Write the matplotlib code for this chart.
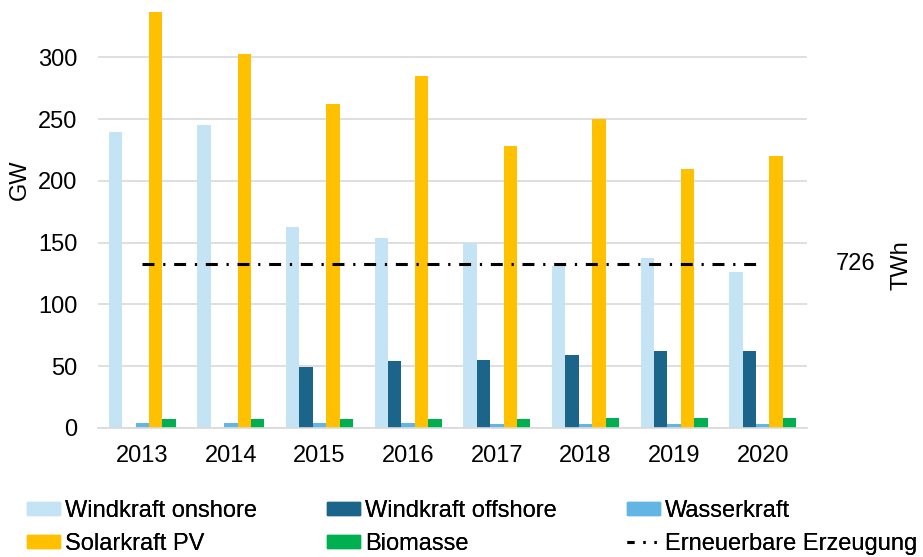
import matplotlib
matplotlib.use("Agg")
import matplotlib.pyplot as plt
import numpy as np
from matplotlib.patches import Patch
from matplotlib.lines import Line2D

plt.rcParams['font.family'] = ['Liberation Sans', 'DejaVu Sans']
plt.rcParams['lines.scale_dashes'] = False

years = ['2013', '2014', '2015', '2016', '2017', '2018', '2019', '2020']
onshore = [240, 245, 163, 154, 150, 131, 138, 126]
offshore = [0, 0, 49, 54, 55, 59, 62, 62]
wasser = [4, 4, 4, 4, 3, 3, 3, 3]
solar = [337, 303, 262, 285, 228, 250, 210, 220]
biomasse = [7, 7, 7.5, 7.5, 7.5, 8.5, 8.5, 8.5]
erzeugung_gw = 133
erzeugung_label = '726'

series_names = ['Windkraft onshore', 'Windkraft offshore', 'Wasserkraft',
                'Solarkraft PV', 'Biomasse']
line_name = 'Erneuerbare Erzeugung'
colors = ['#C4E3F4', '#1B658A', '#63B6E3', '#FFC000', '#00B050']

W, H = 923, 557
fig = plt.figure(figsize=(W / 100, H / 100), dpi=100)
ax = fig.add_axes([98 / W, (H - 428) / H, (807 - 98) / W, (428 - 8) / H])

x = np.arange(len(years))
bw = 0.151
data = [onshore, offshore, wasser, solar, biomasse]
for i, (vals, c) in enumerate(zip(data, colors)):
    ax.bar(x + (i - 2) * bw, vals, width=bw, color=c, zorder=2)

ax.plot([x[0], x[-1]], [erzeugung_gw, erzeugung_gw], color='black', lw=2.2,
        dashes=(8.6, 6.3, 1.6, 6.3), zorder=3)

ax.set_xlim(-0.5, len(years) - 0.5)
ax.set_ylim(0, 340)
ax.set_yticks([0, 50, 100, 150, 200, 250, 300])
ax.set_xticks(x)
ax.set_xticklabels(years)
ax.tick_params(axis='both', length=0, labelsize=17, colors='#000000')
ax.tick_params(axis='y', pad=15)
ax.tick_params(axis='x', pad=12)
ax.grid(axis='y', color='#D9D9D9', lw=1.2, zorder=0)
for s in ['top', 'right', 'left']:
    ax.spines[s].set_visible(False)
ax.spines['bottom'].set_color('#D9D9D9')
ax.spines['bottom'].set_linewidth(1.2)
ax.set_axisbelow(True)

fig.text(20 / W, 1 - 180 / H, 'GW', rotation=90, fontsize=17,
         ha='center', va='center')
fig.text(856 / W, 1 - 264 / H, erzeugung_label, fontsize=17,
         ha='center', va='center')
fig.text(901 / W, 1 - 265 / H, 'TWh', rotation=90, fontsize=17,
         ha='center', va='center')

handles = [Patch(color=c) for c in colors]
line_handle = Line2D([], [], color='black', lw=2.2,
                     dashes=(5.0, 6.5, 1.5, 6.5, 1.5, 20))
cols = [
    ([handles[0], handles[3]], [series_names[0], series_names[3]], 27),
    ([handles[1], handles[4]], [series_names[1], series_names[4]], 327),
    ([handles[2], line_handle], [series_names[2], line_name], 627),
]
for hs, ls, px in cols:
    leg = fig.legend(hs, ls, loc='upper left',
                     bbox_to_anchor=(px / W, 1 - 500 / H),
                     frameon=False, fontsize=17, handlelength=1.4,
                     handleheight=0.5, handletextpad=0.22, labelspacing=0.45,
                     borderaxespad=0, borderpad=0)
    fig.add_artist(leg)

fig.savefig('out.png', dpi=100)
